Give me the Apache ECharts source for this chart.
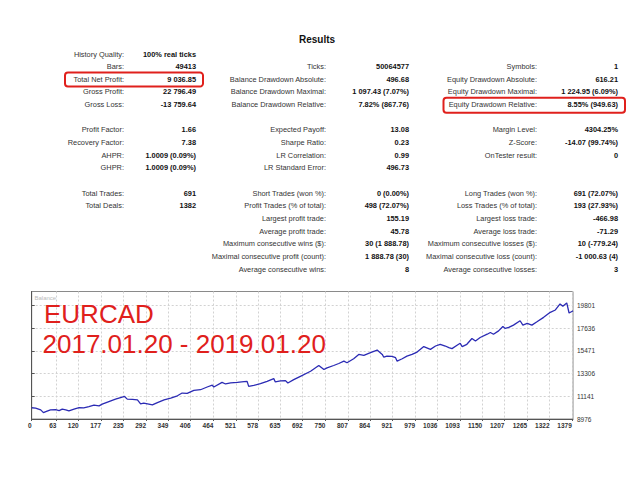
<!DOCTYPE html>
<html>
<head>
<meta charset="utf-8">
<title>Results - EURCAD</title>
<script src="https://cdn.jsdelivr.net/npm/echarts@6.0.0/dist/echarts.min.js"></script>
<style>
  html, body { margin: 0; padding: 0; background: #fff; }
  #chart { width: 640px; height: 480px; }
</style>
</head>
<body>
<div id="chart"></div>
<script>
// report table, row numbers count from "History Quality"
var rows1 = [0, 1, 2, 3, 4, 6, 7, 8, 9, 11, 12];
var labels1 = ['History Quality:', 'Bars:', 'Total Net Profit:', 'Gross Profit:', 'Gross Loss:',
  'Profit Factor:', 'Recovery Factor:', 'AHPR:', 'GHPR:', 'Total Trades:', 'Total Deals:'];
var values1 = ['100% real ticks', '49413', '9 036.85', '22 796.49', '-13 759.64',
  '1.66', '7.38', '1.0009 (0.09%)', '1.0009 (0.09%)', '691', '1382'];

var rows2 = [1, 2, 3, 4, 6, 7, 8, 9, 11, 12, 13, 14, 15, 16, 17];
var labels2 = ['Ticks:', 'Balance Drawdown Absolute:', 'Balance Drawdown Maximal:', 'Balance Drawdown Relative:',
  'Expected Payoff:', 'Sharpe Ratio:', 'LR Correlation:', 'LR Standard Error:',
  'Short Trades (won %):', 'Profit Trades (% of total):', 'Largest profit trade:', 'Average profit trade:',
  'Maximum consecutive wins ($):', 'Maximal consecutive profit (count):', 'Average consecutive wins:'];
var values2 = ['50064577', '496.68', '1 097.43 (7.07%)', '7.82% (867.76)',
  '13.08', '0.23', '0.99', '496.73',
  '0 (0.00%)', '498 (72.07%)', '155.19', '45.78',
  '30 (1 888.78)', '1 888.78 (30)', '8'];

var rows3 = [1, 2, 3, 4, 6, 7, 8, 11, 12, 13, 14, 15, 16, 17];
var labels3 = ['Symbols:', 'Equity Drawdown Absolute:', 'Equity Drawdown Maximal:', 'Equity Drawdown Relative:',
  'Margin Level:', 'Z-Score:', 'OnTester result:',
  'Long Trades (won %):', 'Loss Trades (% of total):', 'Largest loss trade:', 'Average loss trade:',
  'Maximum consecutive losses ($):', 'Maximal consecutive loss (count):', 'Average consecutive losses:'];
var values3 = ['1', '616.21', '1 224.95 (6.09%)', '8.55% (949.63)',
  '4304.25%', '-14.07 (99.74%)', '0',
  '691 (72.07%)', '193 (27.93%)', '-466.98', '-71.29',
  '10 (-779.24)', '-1 000.63 (4)', '3'];

// balance chart
var xTicks = [0, 63, 120, 177, 235, 292, 349, 406, 464, 521, 578, 635, 692, 750, 807, 864,
  921, 979, 1036, 1093, 1150, 1207, 1265, 1322, 1379];
var yTicks = [8976, 11141, 13306, 15471, 17636, 19801];

var deals = [0, 10, 23, 30, 36, 48, 61, 70, 78, 87, 95, 108, 121, 133, 146, 159, 172, 180, 197, 214,
  231, 237, 244, 257, 270, 278, 286, 299, 308, 321, 338, 355, 372, 384, 397, 414, 431, 448, 461, 465,
  486, 495, 508, 525, 542, 550, 554, 567, 584, 601, 618, 622, 635, 648, 654, 669, 686, 712, 733, 746,
  754, 771, 784, 797, 805, 822, 835, 848, 865, 882, 895, 899, 907, 920, 929, 933, 946, 958, 971, 984,
  1001, 1018, 1031, 1043, 1056, 1065, 1073, 1086, 1094, 1099, 1111, 1124, 1133, 1145, 1163, 1171, 1179, 1192, 1203, 1209,
  1218, 1230, 1247, 1254, 1265, 1277, 1290, 1307, 1324, 1337, 1349, 1356, 1366, 1372, 1379, 1382];
var balance = [10050, 10007, 9844, 9583, 9680, 9844, 9872, 9776, 9911, 9844, 9747, 9911, 10065, 10040, 10162, 10297, 10229, 10393, 10644, 10875,
  11068, 11126, 10875, 10850, 10807, 10422, 10489, 10393, 10325, 10547, 10807, 10971, 11193, 11453, 11420, 11704, 11771, 12032, 12200, 12032,
  12475, 12321, 12417, 12475, 12542, 12571, 12089, 12186, 12350, 12571, 12832, 12514, 12610, 12639, 12417, 12735, 13053, 13535, 14085, 13699,
  13863, 14085, 14277, 14499, 14345, 14730, 15145, 15049, 15309, 15559, 15145, 14875, 14981, 14952, 14827, 14499, 14730, 14981, 15145, 15367,
  15887, 15627, 15945, 16109, 15945, 15791, 15694, 16012, 16205, 15887, 16109, 16658, 16427, 16755, 17073, 17237, 17073, 17391, 17815, 17622,
  17719, 17940, 18355, 17940, 18104, 17940, 18258, 18682, 19164, 19386, 19964, 19743, 20061, 19097, 19240, 19300];

var font = '"Liberation Sans", Arial, sans-serif';
var rowTop = 54, rowStep = 12.65;

var graphics = [];

function addColumn (rows, labels, values, labelRight, valueRight) {
  rows.forEach(function (r, i) {
    var y = rowTop + r * rowStep;
    graphics.push({
      type: 'text', x: labelRight, y: y, silent: true,
      style: { text: labels[i], align: 'right', verticalAlign: 'middle', fontSize: 7.4, fontFamily: font, fill: '#333' }
    });
    graphics.push({
      type: 'text', x: valueRight, y: y, silent: true,
      style: { text: values[i], align: 'right', verticalAlign: 'middle', fontSize: 7.4, fontWeight: 'bold', fontFamily: font, fill: '#111' }
    });
  });
}

addColumn(rows1, labels1, values1, 124, 196);
addColumn(rows2, labels2, values2, 326, 409);
addColumn(rows3, labels3, values3, 537, 618);

graphics.push(
  { type: 'text', x: 317, y: 39.5, silent: true,
    style: { text: 'Results', align: 'center', verticalAlign: 'middle', fontSize: 10, fontWeight: 'bold', fontFamily: font, fill: '#111' } },
  // red highlight boxes
  { type: 'rect', silent: true, shape: { x: 65, y: 72.5, width: 138, height: 14, r: 3 },
    style: { fill: 'none', stroke: '#e0201c', lineWidth: 2 } },
  { type: 'rect', silent: true, shape: { x: 443.5, y: 97.8, width: 181.5, height: 15, r: 3 },
    style: { fill: 'none', stroke: '#e0201c', lineWidth: 2 } },
  // chart captions
  { type: 'text', x: 34.5, y: 297.5, silent: true,
    style: { text: 'Balance', align: 'left', verticalAlign: 'middle', fontSize: 6, fontFamily: font, fill: '#bbb' } },
  { type: 'text', x: 44, y: 314, silent: true, z: 10,
    style: { text: 'EURCAD', align: 'left', verticalAlign: 'middle', fontSize: 26, fontFamily: font, fill: '#e0201c' } },
  { type: 'text', x: 42.5, y: 344, silent: true, z: 10,
    style: { text: '2017.01.20 - 2019.01.20', align: 'left', verticalAlign: 'middle', fontSize: 26, fontFamily: font, fill: '#e0201c' } }
);

function plain (v) { return String(v); }

var chart = echarts.init(document.getElementById('chart'), null, { renderer: 'svg' });

var option = {
  animation: false,
  backgroundColor: '#fff',
  grid: {
    left: 31.7, top: 291.5, width: 541.3, height: 127.5,
    show: true, borderColor: '#8a8a8a', borderWidth: 1, backgroundColor: '#fff'
  },
  xAxis: {
    type: 'value', min: 0, max: 1382,
    axisLine: { show: true, lineStyle: { color: '#555', width: 1 } },
    axisTick: { show: true, customValues: xTicks, length: 2, lineStyle: { color: '#555' } },
    axisLabel: {
      customValues: xTicks, align: 'right', margin: 3, formatter: plain,
      fontSize: 6.5, fontWeight: 'bold', fontFamily: font, color: '#333'
    },
    splitLine: { show: true, lineStyle: { color: '#d2d2d2', type: [2, 2] } }
  },
  yAxis: {
    type: 'value', position: 'right', min: 8976, max: 21150,
    axisLine: { show: true, lineStyle: { color: '#555', width: 1 } },
    axisTick: { show: true, customValues: yTicks, length: 3, lineStyle: { color: '#555' } },
    axisLabel: {
      customValues: yTicks, margin: 4, formatter: plain,
      fontSize: 6.5, fontFamily: font, color: '#333'
    },
    splitLine: { show: true, lineStyle: { color: '#d2d2d2', type: [2, 2] } }
  },
  series: [{
    name: 'Balance',
    type: 'line',
    data: deals.map(function (d, i) { return [d, balance[i]]; }),
    showSymbol: false,
    lineStyle: { color: '#2b2bb4', width: 1.3 },
    z: 5
  }],
  graphic: graphics
};

chart.setOption(option);
</script>
</body>
</html>
